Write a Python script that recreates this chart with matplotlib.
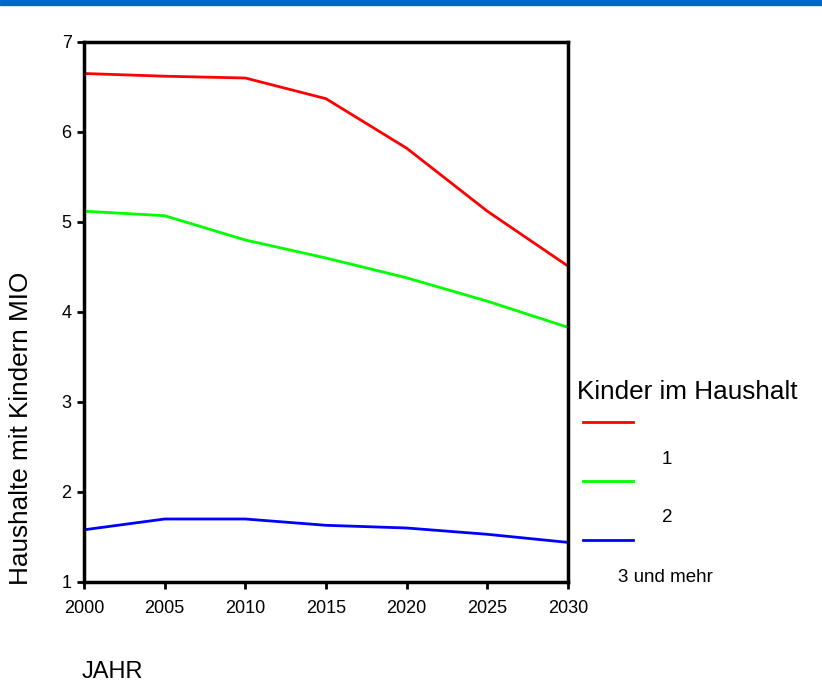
import matplotlib
matplotlib.use("Agg")
import matplotlib.pyplot as plt
from matplotlib.lines import Line2D

plt.rcParams['font.family'] = ['Liberation Sans', 'DejaVu Sans']

years = [2000, 2005, 2010, 2015, 2020, 2025, 2030]
kinder_1 = [6.65, 6.62, 6.60, 6.37, 5.82, 5.12, 4.51]
kinder_2 = [5.12, 5.07, 4.80, 4.60, 4.38, 4.12, 3.83]
kinder_3 = [1.58, 1.70, 1.70, 1.63, 1.60, 1.53, 1.44]
series_labels = ["1", "2", "3 und mehr"]
series_colors = ["#ff0000", "#00ff00", "#0000ff"]
y_ticks = [1, 2, 3, 4, 5, 6, 7]

fig = plt.figure(figsize=(8.22, 6.98), dpi=100)
ax = fig.add_axes([84/822, 1-582/698, (568-84)/822, (582-42)/698])

for vals, c in zip([kinder_1, kinder_2, kinder_3], series_colors):
    ax.plot(years, vals, color=c, lw=2)

ax.set_xlim(2000, 2030)
ax.set_ylim(1, 7)
ax.set_xticks(years)
ax.set_yticks(y_ticks)
ax.tick_params(direction='out', length=5, width=2, labelsize=13, pad=3)
ax.tick_params(axis='x', pad=8)
ax.tick_params(axis='y', pad=4)
for s in ax.spines.values():
    s.set_linewidth(2.5)

fig.text(21/822, 1-428/698, "Haushalte mit Kindern MIO", fontsize=18.8,
         rotation=90, ha='center', va='center')

# blue top bar
fig.patches.append(plt.Rectangle((0, 1-5/698), 1, 5/698, transform=fig.transFigure,
                                 color="#0066cc", zorder=5))

fig.text(82/822, 1-672/698, "JAHR", fontsize=17, ha='left', va='center')

# legend
fig.text(577/822, 1-392/698, "Kinder im Haushalt", fontsize=18.8, ha='left', va='center')
line_y = [422, 481, 540]
label_pos = [(667, 459), (667, 518), (665, 578)]
for c, ly, lab, (lx, lyy) in zip(series_colors, line_y, series_labels, label_pos):
    fig.add_artist(Line2D([583/822, 633/822], [1-ly/698, 1-ly/698], color=c, lw=2,
                          transform=fig.transFigure))
    fig.text(lx/822, 1-lyy/698, lab, fontsize=13.5, ha='center', va='center')

fig.savefig("out.png", dpi=100)
